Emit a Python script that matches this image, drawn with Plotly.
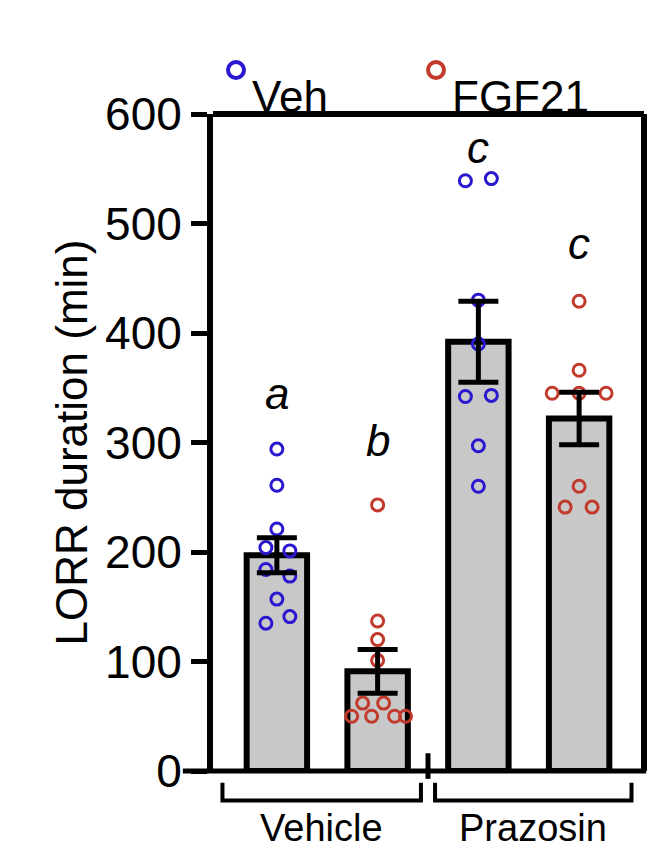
import plotly.graph_objects as go

positions = [1, 2, 3, 4]
groups = ["Veh", "FGF21", "Veh", "FGF21"]
means = [197, 91, 392, 322]
sems = [16, 20, 37, 24]
letters = ["a", "b", "c", "c"]
letter_y = [345, 302, 569, 482]

pts = [
    [294, 261, 221, 204, 201, 184, 178, 157, 141, 135],
    [243, 137, 120, 101, 62, 62, 50, 50, 50, 50],
    [539, 541, 430, 390, 342, 343, 297, 260],
    [429, 366, 345, 345, 345, 260, 241, 241],
]
jit = [
    [0, 0, 0, -11, 13, -11, 13, 0, 13, -11],
    [0, 0, 0, 0, -15, 6, -26, -6, 17, 28],
    [-13, 13, 0, 0, -13, 13, 0, 0],
    [0, 0, -27, 0, 27, 0, -14, 13],
]
colors = {"Veh": "#2a17d0", "FGF21": "#c23a2c"}
legend_names = ["Veh", "FGF21"]
PX = 101.0
W, H = 431.0, 657.0

fig = go.Figure()
fig.add_trace(go.Bar(x=positions, y=means, width=0.6, marker=dict(color="#c8c8c8", line=dict(color="black", width=6)),
                     showlegend=False))
for i in range(4):
    c = colors[groups[i]]
    fig.add_trace(go.Scatter(x=[positions[i] + j / PX for j in jit[i]], y=pts[i], mode="markers",
                             marker=dict(symbol="circle-open", size=12, color=c, line=dict(width=3, color=c)),
                             showlegend=False))
fig.add_trace(go.Scatter(x=positions, y=means, mode="markers", marker=dict(size=0.1, color="rgba(0,0,0,0)"),
                         error_y=dict(type="data", array=sems, color="black", thickness=5, width=20),
                         showlegend=False))
# legend drawn manually
for name, cx in zip(legend_names, [228, 428]):
    xp = (cx - 205) / W
    yp = (763 - 62) / H
    rx, ry = 8 / W, 8 / H
    fig.add_shape(type="circle", xref="paper", yref="paper", x0=xp - rx, x1=xp + rx, y0=yp - ry, y1=yp + ry,
                  line=dict(color=colors[name], width=4))
    fig.add_annotation(x=xp + 14 / W, y=yp, xref="paper", yref="paper", text=name, showarrow=False,
                       xanchor="left", font=dict(size=44, color="black"))
for p, l, ly in zip(positions, letters, letter_y):
    fig.add_annotation(x=p, y=ly, text=f"<i>{l}</i>", showarrow=False, font=dict(size=44, color="black"))

# brackets
for x0, x1, lab in [(0.46, 2.43, "Vehicle"), (2.57, 4.52, "Prazosin")]:
    fig.add_shape(type="path", xref="x", yref="paper",
                  path=f"M {x0},-0.018 L {x0},-0.045 L {x1},-0.045 L {x1},-0.018",
                  line=dict(color="black", width=4))
    fig.add_annotation(x=(x0 + x1) / 2, y=-0.052, yref="paper", text=lab, showarrow=False,
                       yanchor="top", font=dict(size=38, color="black"))
fig.add_shape(type="line", xref="paper", yref="paper", x0=0, x1=1, y0=1, y1=1, line=dict(color="black", width=6))
fig.add_shape(type="line", xref="paper", yref="paper", x0=1, x1=1, y0=0, y1=1, line=dict(color="black", width=6))
fig.add_shape(type="line", xref="paper", yref="paper", x0=-0.07, x1=1.005, y0=0, y1=0, line=dict(color="black", width=5))
fig.add_shape(type="line", xref="x", yref="paper", x0=2.5, x1=2.5, y0=-0.012, y1=0.027, line=dict(color="black", width=5))

fig.update_layout(
    width=666, height=854, margin=dict(l=205, r=30, t=106, b=91, autoexpand=False),
    plot_bgcolor="white", paper_bgcolor="white",
    font=dict(family="Liberation Sans, Arial", color="black"),
    showlegend=False,
    xaxis=dict(range=[0.366, 4.644], showticklabels=False, showline=False, showgrid=False, zeroline=False, ticks=""),
    yaxis=dict(range=[0, 600], tickvals=[0, 100, 200, 300, 400, 500, 600], showline=True, linecolor="black",
               linewidth=6, ticks="outside", ticklen=16, tickwidth=5, tickcolor="black",
               tickfont=dict(size=46), showgrid=False, zeroline=False,
               title=dict(text="LORR duration (min)", font=dict(size=44), standoff=6)),
)
fig.write_html("out.html")
